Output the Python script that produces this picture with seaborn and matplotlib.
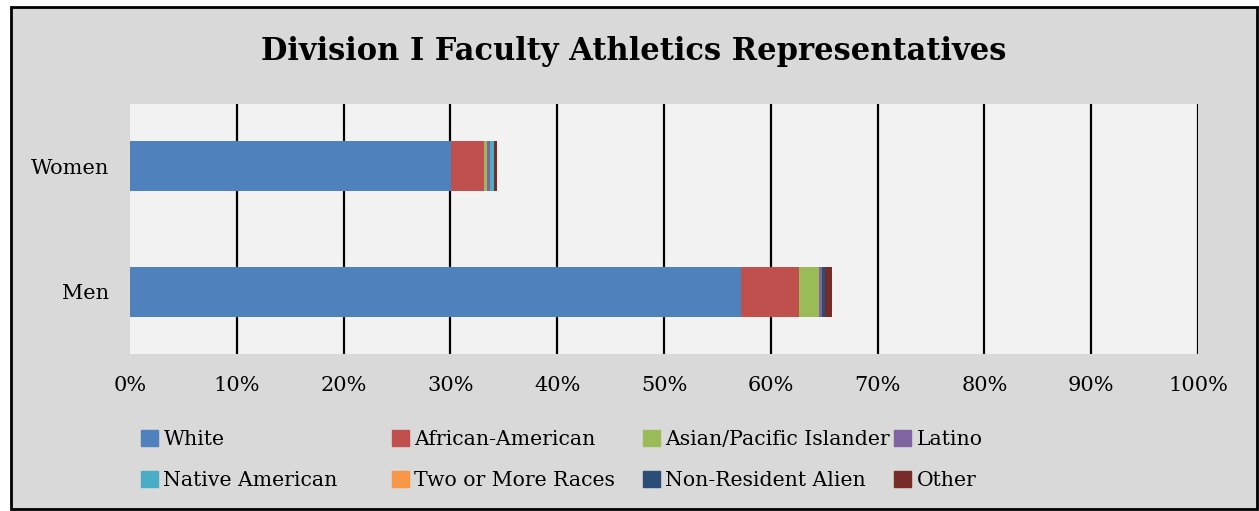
import pandas as pd
import matplotlib.pyplot as plt
import seaborn as sns
from matplotlib.patches import Rectangle

# data (percent of all FARs)
groups = ['Women', 'Men']
races = ['White', 'African-American', 'Asian/Pacific Islander', 'Latino',
         'Native American', 'Two or More Races', 'Non-Resident Alien', 'Other']
women = [30.1, 3.05, 0.3, 0.25, 0.37, 0.0, 0.0, 0.28]
men = [57.2, 5.45, 1.84, 0.28, 0.0, 0.0, 0.34, 0.59]
colors = ['#4F81BD', '#C0504D', '#9BBB59', '#8064A2',
          '#4BACC6', '#F79646', '#2C4D75', '#772C2A']
ticks = list(range(0, 101, 10))

sns.set_theme(style='white')
plt.rcParams['font.family'] = ['DejaVu Serif']
plt.rcParams['text.color'] = 'black'
plt.rcParams['xtick.color'] = 'black'
plt.rcParams['ytick.color'] = 'black'

df = pd.DataFrame({'Women': women, 'Men': men}, index=races)
cum = df.cumsum()

fig = plt.figure(figsize=(12.59, 5.11), dpi=100)
fig.patch.set_facecolor('white')
fig.patches.append(Rectangle((11 / 1259, 2 / 511), 1246 / 1259, 502 / 511,
                             transform=fig.transFigure, facecolor='#D9D9D9',
                             edgecolor='black', linewidth=2, zorder=-10))

ax = fig.add_axes([130 / 1259, 157 / 511, 1068 / 1259, 250 / 511])
ax.set_facecolor('#F2F2F2')

# stacked bars: draw cumulative totals from the outermost segment inward
for race, col in reversed(list(zip(races, colors))):
    d = pd.DataFrame({'group': groups, 'value': cum.loc[race, groups].values})
    sns.barplot(data=d, x='value', y='group', order=groups, color=col,
                width=0.4, orient='h', ax=ax, saturation=1, zorder=3,
                edgecolor='none', linewidth=0)

for t in ticks[1:]:
    ax.axvline(t, color='black', lw=1.6, zorder=1)

ax.set_xlim(0, 100)
ax.set_ylim(1.5, -0.5)
ax.set_xticks(ticks)
ax.set_xticklabels([f'{t}%' for t in ticks], fontsize=15)
ax.tick_params(axis='x', pad=16, length=0)
ax.tick_params(axis='y', pad=15, length=0, labelsize=15)
ax.set_xlabel('')
ax.set_ylabel('')
for s in ax.spines.values():
    s.set_visible(False)

fig.text(634 / 1259, 1 - 51 / 511, 'Division I Faculty Athletics Representatives',
         ha='center', va='center', fontsize=22, fontweight='bold', color='black')

# legend: 4 fixed-width columns, filled row by row
for i in range(4):
    hs = [Rectangle((0, 0), 1, 1, color=colors[i]), Rectangle((0, 0), 1, 1, color=colors[i + 4])]
    fig.legend(hs, [races[i], races[i + 4]], loc='upper left',
               bbox_to_anchor=((141 + 251 * i) / 1259, 1 - 430 / 511),
               frameon=False, borderpad=0, borderaxespad=0, fontsize=14.7,
               handlelength=0.85, handleheight=0.85, handletextpad=0.25,
               labelspacing=1.05)

fig.savefig('out.png', dpi=100)
